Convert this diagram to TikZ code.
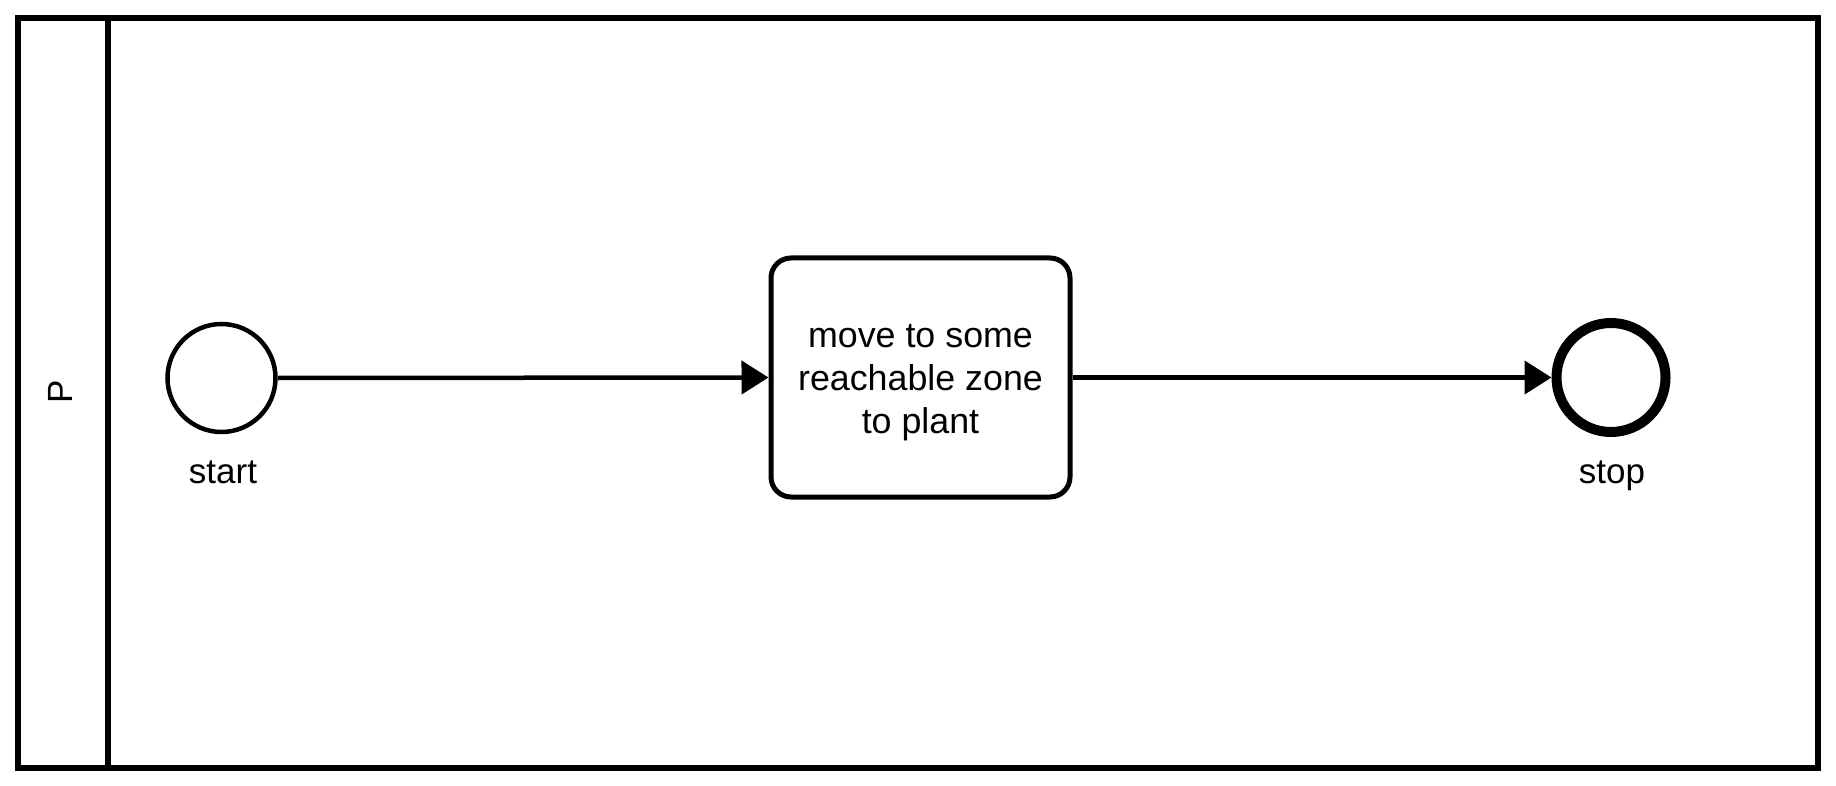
\documentclass[tikz,border=0pt]{standalone}
\usepackage{fontspec}
\setmainfont{Liberation Sans}
\usetikzlibrary{arrows.meta}
\tikzset{
  txt/.style={font=\fontsize{35}{42}\selectfont, inner sep=0pt},
  event/.style={draw, circle, fill=white, inner sep=0pt},
  taskbox/.style={draw, rectangle, rounded corners=20pt, line width=5pt, fill=white,
    minimum width=299pt, minimum height=239pt, align=center, font=\fontsize{35.8}{43}\selectfont},
  flow/.style={line width=4.5pt, -{Triangle[length=27pt, width=33pt]}},
  frame/.style={line width=6pt}
}
\begin{document}
\begin{tikzpicture}[x=1pt,y=-1pt]
\useasboundingbox (0,0) rectangle (1836,786);
\fill[white] (0,0) rectangle (1836,786);
\draw[frame] (18,18) rectangle (1818,768);
\coordinate (lt) at (108,18);
\coordinate (lb) at (108,768);
\draw[frame] (lt) -- (lb);
\node[txt, rotate=90] (P) at (60,392) {P};
\node[event, line width=4.5pt, minimum size=108pt] (start) at (221.5,378) {};
\node[taskbox] (task) at (920.5,377.5) {\rule{0pt}{34pt}move to some\\reachable zone\\to plant};
\node[event, line width=10pt, minimum size=109pt] (stop) at (1611,377.5) {};
\node[txt, anchor=base] (startlbl) at (223,483) {start};
\node[txt, anchor=base] (stoplbl) at (1612,483) {stop};
\draw[flow] (start.east) -- (task.west);
\draw[flow] (task.east) -- (stop.west);
\end{tikzpicture}
\end{document}
